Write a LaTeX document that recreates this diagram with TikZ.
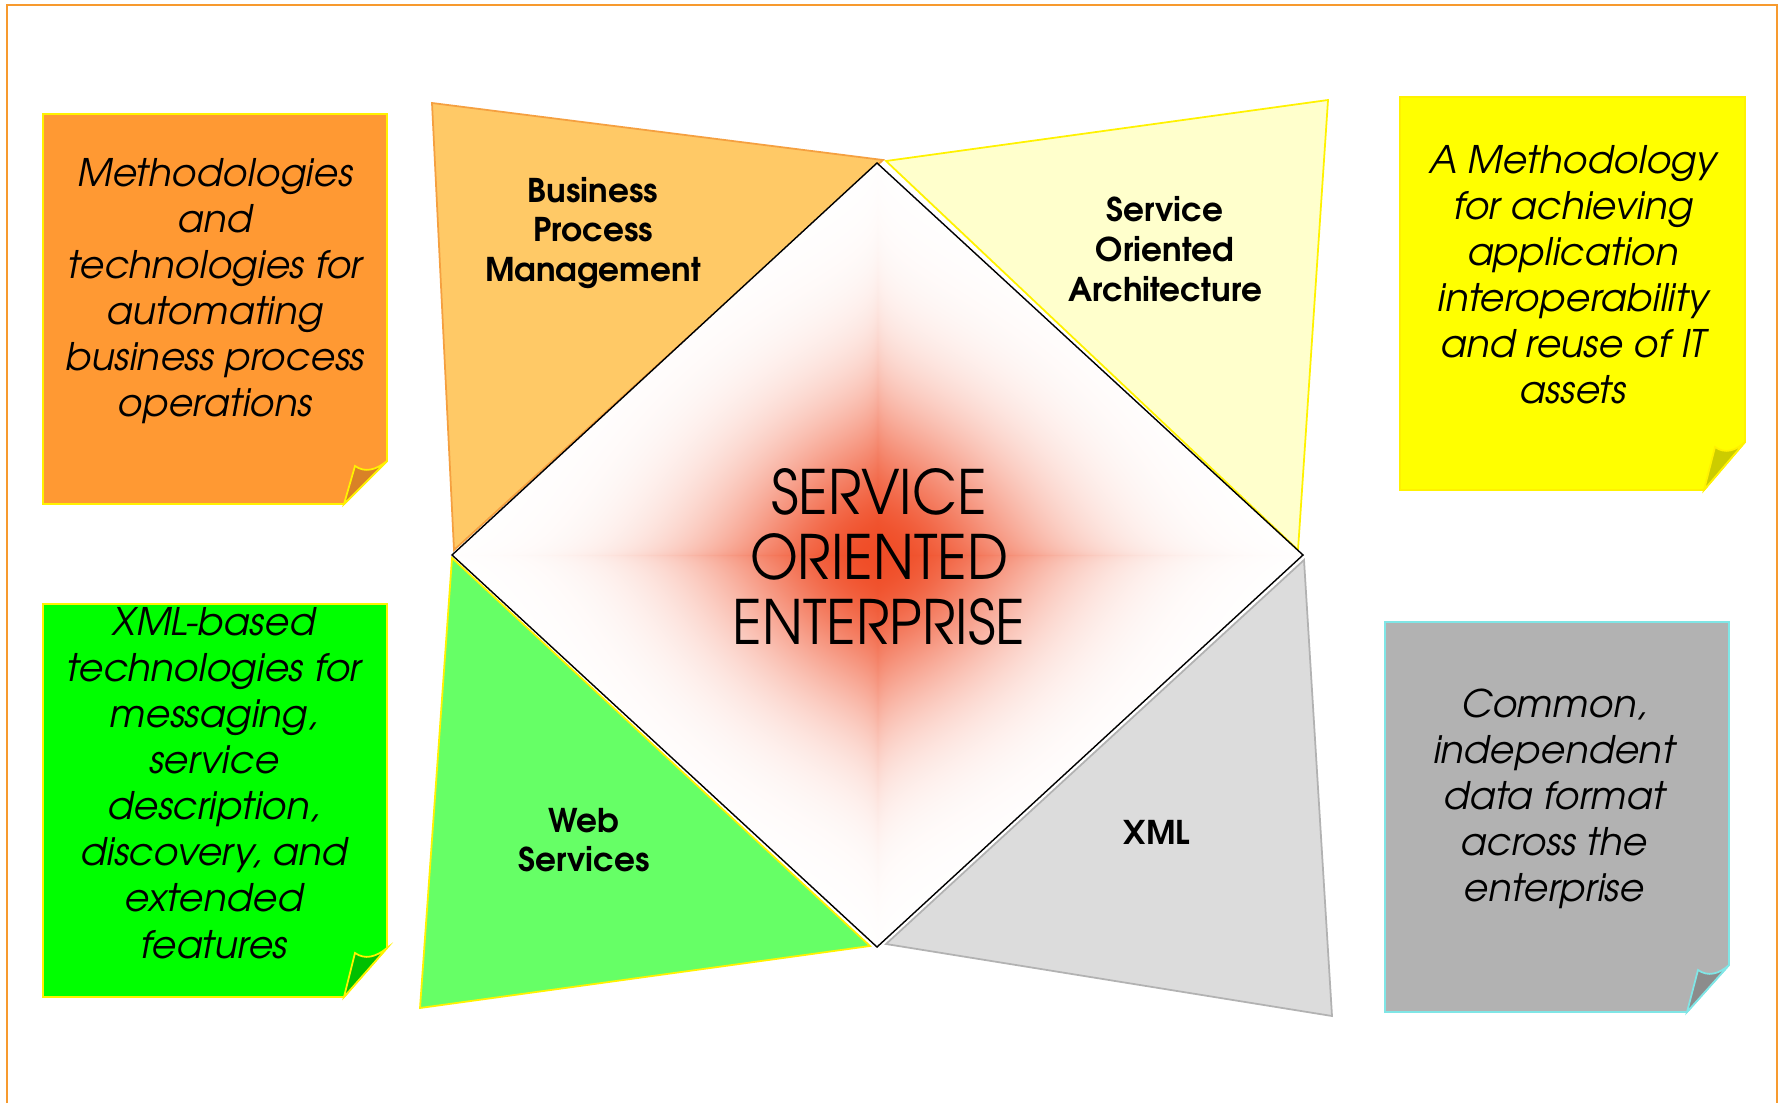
\documentclass[tikz,border=0pt]{standalone}
\usepackage{fontspec}
\setmainfont{texgyreadventor}[Extension=.otf, UprightFont=*-regular, BoldFont=*-bold, ItalicFont=*-italic, BoldItalicFont=*-bolditalic]

\definecolor{frameorange}{HTML}{F79A2E}
\definecolor{bpmnote}{HTML}{FF9933}
\definecolor{bpmflap}{HTML}{D98226}
\definecolor{soanote}{HTML}{FFFF00}
\definecolor{soaflap}{HTML}{CCCC00}
\definecolor{wsnote}{HTML}{00FF00}
\definecolor{wsflap}{HTML}{00C000}
\definecolor{xmlnote}{HTML}{B2B2B2}
\definecolor{xmlflap}{HTML}{8C8C8C}
\definecolor{cyanline}{HTML}{80E6E6}
\definecolor{bpmpetal}{HTML}{FFC966}
\definecolor{bpmline}{HTML}{F5A040}
\definecolor{soapetal}{HTML}{FFFFCC}
\definecolor{wspetal}{HTML}{66FF66}
\definecolor{xmlpetal}{HTML}{DCDCDC}

% red glow in the middle of the diamond
\pgfdeclarefunctionalshading{soeglow}{\pgfpoint{-50bp}{-50bp}}{\pgfpoint{50bp}{50bp}}{}{
  abs 25 div exch abs 25 div
  2 copy mul sqrt 0.5 mul
  3 1 roll
  dup mul exch dup mul add sqrt
  add 0.46 div dup mul neg
  2.718 exch exp
  dup 0.06 mul 1 exch sub
  exch dup 0.70 mul 1 exch sub
  exch 0.85 mul 1 exch sub
}

\tikzset{
  notetext/.style={align=center, inner sep=0pt, font=\itshape\fontsize{10.8}{13.1}\selectfont},
  petaltext/.style={align=center, inner sep=0pt, font=\bfseries\fontsize{9.3}{11.3}\selectfont},
  notebox/.style={line width=0.5pt}
}

\begin{document}
\begin{tikzpicture}[x=0.01cm, y=-0.01cm]
    \useasboundingbox (0,0) rectangle (1785,1103);
    \fill[white] (0,0) rectangle (1785,1103);
    \draw[frameorange, line width=0.8pt] (7,1103) -- (7,5) -- (1777,5) -- (1777,1103);

    % sticky notes
    \draw[notebox, fill=bpmnote, draw=yellow] (43,114) -- (387,114) -- (387,461) -- (344,504) -- (43,504) -- cycle;
    \draw[notebox, fill=bpmflap, draw=yellow] (344,504) -- (355,466) .. controls (365,473) and (376,470) .. (387,461) -- cycle;
    \draw[notebox, fill=soanote, draw=yellow] (1400,97) -- (1745,97) -- (1745,442) -- (1704,490) -- (1400,490) -- cycle;
    \draw[notebox, fill=soaflap, draw=yellow] (1704,490) -- (1715,447) .. controls (1725,454) and (1735,451) .. (1745,442) -- cycle;
    \draw[notebox, fill=wsnote, draw=yellow] (43,604) -- (387,604) -- (387,948) -- (344,997) -- (43,997) -- cycle;
    \draw[notebox, fill=wsflap, draw=yellow] (344,997) -- (355,953) .. controls (365,960) and (376,957) .. (387,948) -- cycle;
    \draw[notebox, fill=xmlnote, draw=cyanline] (1385,622) -- (1729,622) -- (1729,965) -- (1687,1012) -- (1385,1012) -- cycle;
    \draw[notebox, fill=xmlflap, draw=cyanline] (1687,1012) -- (1698,970) .. controls (1708,977) and (1719,974) .. (1729,965) -- cycle;

    \node[notetext] (bpmdesc) at (215,291) {Methodologies\\and\\technologies for\\automating\\business process\\operations};
    \node[notetext] (soadesc) at (1573,275) {A Methodology\\for achieving\\application\\interoperability\\and reuse of IT\\assets};
    \node[notetext] (wsdesc) at (214,783) {XML-based\\technologies for\\messaging,\\service\\description,\\discovery, and\\extended\\features};
    \node[notetext] (xmldesc) at (1554,799) {Common,\\independent\\data format\\across the\\enterprise};

    % petals round the diamond
    \coordinate (dtop) at (877,163);
    \coordinate (dright) at (1303,555);
    \coordinate (dbottom) at (877,947);
    \coordinate (dleft) at (452,555);
    \draw[bpmline, fill=bpmpetal, line width=0.5pt] (432,103) -- (883,160) -- (454,550) -- cycle;
    \draw[yellow, fill=soapetal, line width=0.5pt] (886,161) -- (1328,100) -- (1298,550) -- cycle;
    \draw[yellow, fill=wspetal, line width=0.5pt] (452,558) -- (870,946) -- (420,1008) -- cycle;
    \draw[gray!60, fill=xmlpetal, line width=0.5pt] (1304,560) -- (1332,1016) -- (886,944) -- cycle;

    \node[petaltext] (bpm) at (593,233) {Business\\Process\\Management};
    \node[petaltext] (soa) at (1165,249) {Service\\Oriented\\Architecture};
    \node[petaltext] (ws) at (584,840) {Web\\Services};
    \node[petaltext] (xml) at (1157,832) {XML};

    % the diamond
    \shade[shading=soeglow] (dtop) -- (dright) -- (dbottom) -- (dleft) -- cycle;
    \draw[black, line width=0.4pt] (dtop) -- (dright) -- (dbottom) -- (dleft) -- cycle;
    \node[align=center, inner sep=0pt, xscale=0.9, font=\fontsize{17.4}{18.5}\selectfont] (soe) at (879,557) {SERVICE\\ORIENTED\\ENTERPRISE};
\end{tikzpicture}
\end{document}
